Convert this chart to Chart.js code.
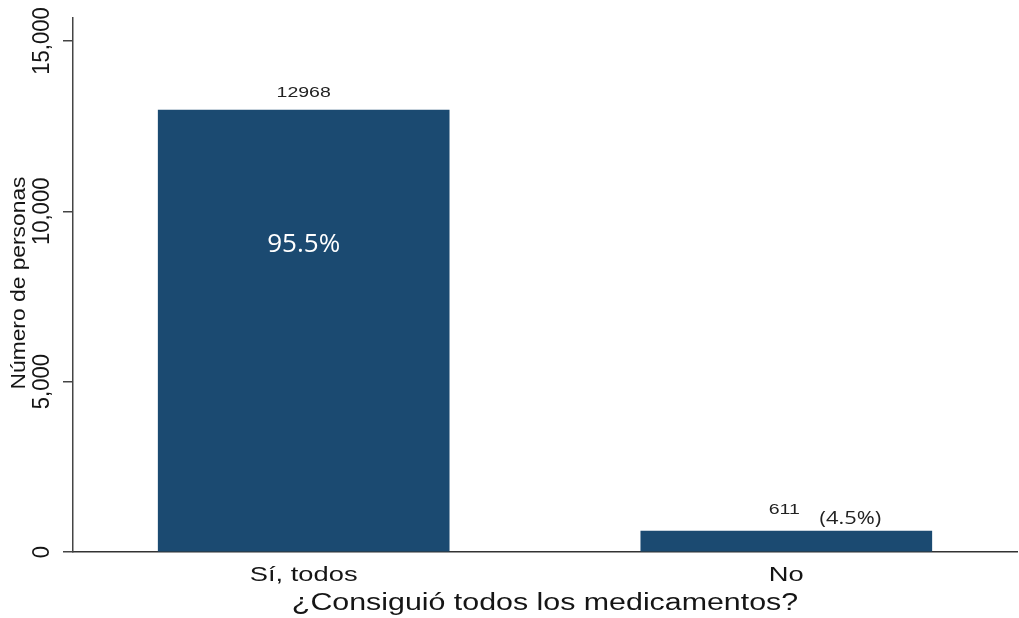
<!DOCTYPE html>
<html>
<head>
<meta charset="utf-8">
<script src="https://cdn.jsdelivr.net/npm/chart.js@4"></script>
<style>
  body { margin: 0; background: #fff; }
  #wrap { width: 1019px; height: 618px; }
</style>
</head>
<body>
<div id="wrap"><canvas id="medsChart" width="1019" height="618"></canvas></div>
<script>
// answers and number of people
var categories = ["Sí, todos", "No"];
var counts = [12968, 611];
var yTicks = [0, 5000, 10000, 15000];

var yTitle = "Número de personas";
var xTitle = "¿Consiguió todos los medicamentos?";

var total = counts.reduce(function(a, b) { return a + b; }, 0);
var pctLabels = counts.map(function(v) { return (v / total * 100).toFixed(1) + "%"; });

var barColor = "#1b4a71";
var inkColor = "#151515";

// draws text stretched by sx/sy (screen axes), optionally rotated
function putText(ctx, txt, x, y, font, color, sx, sy, rot, align) {
    ctx.save();
    ctx.translate(x, y);
    ctx.scale(sx, sy);
    if (rot) ctx.rotate(rot);
    ctx.font = font;
    ctx.fillStyle = color;
    ctx.textAlign = align || "center";
    ctx.textBaseline = "middle";
    ctx.fillText(txt, 0, 0);
    ctx.restore();
}

var labelPlugin = {
    id: "labels",
    afterDraw: function(chart) {
        var ctx = chart.ctx;
        var ys = chart.scales.y;
        var area = chart.chartArea;
        var bars = chart.getDatasetMeta(0).data;

        // y tick labels, rotated
        yTicks.forEach(function(v) {
            putText(ctx, v.toLocaleString("en-US"), 43, ys.getPixelForValue(v),
                "21px 'Liberation Sans', Arial", inkColor, 1.1, 1.05, -Math.PI / 2);
        });
        putText(ctx, yTitle, 19, 283, "19px 'Liberation Sans', Arial", inkColor, 1.1, 1.2, -Math.PI / 2);

        bars.forEach(function(el, i) {
            // category under the bar
            putText(ctx, categories[i], el.x, 575, "21px 'Liberation Sans', Arial", inkColor, 1.3, 1);

            var tall = (el.base - el.y) > 100;
            if (tall) {
                putText(ctx, String(counts[i]), el.x, el.y - 17, "15px 'Liberation Sans', Arial", "#222", 1.3, 1);
                putText(ctx, pctLabels[i], el.x, el.y + 134, "26px 'Open Sans'", "#ffffff", 1, 1);
            } else {
                // short bar: count and share side by side above it
                putText(ctx, String(counts[i]), el.x - 2, el.y - 21, "15px 'Liberation Sans', Arial", "#222", 1.3, 1);
                putText(ctx, "(" + pctLabels[i] + ")", el.x + 64, el.y - 13, "19px 'Open Sans'", "#222", 1.15, 1);
            }
        });

        putText(ctx, xTitle, (area.left + area.right) / 2, 604, "23px 'Liberation Sans', Arial", inkColor, 1.32, 1);
    }
};

var ctx = document.getElementById("medsChart");
var medsChart = new Chart(ctx, {
    type: "bar",
    data: {
        datasets: [{
            data: counts.map(function(v, i) { return { x: i + 1, y: v }; }),
            backgroundColor: barColor,
            borderWidth: 0,
            barThickness: 291
        }]
    },
    options: {
        responsive: false,
        animation: false,
        devicePixelRatio: 1,
        layout: { padding: { top: 18, right: 2, left: 0, bottom: 0 } },
        plugins: {
            legend: { display: false },
            tooltip: { enabled: false }
        },
        scales: {
            x: {
                type: "linear",
                offset: false,
                min: 0.522,
                max: 2.478,
                grid: { display: false, offset: false },
                ticks: { display: false },
                border: { display: true, color: "#333", width: 1.5 },
                afterFit: function(scale) { scale.height = 66; }
            },
            y: {
                min: 0,
                max: 15674,
                grid: { drawOnChartArea: false, drawTicks: true, tickLength: 10, color: "#444", lineWidth: 1.5 },
                ticks: { display: false },
                border: { display: true, color: "#444", width: 1.5 },
                afterBuildTicks: function(scale) {
                    scale.ticks = yTicks.map(function(v) { return { value: v }; });
                },
                afterFit: function(scale) { scale.width = 73; }
            }
        }
    },
    plugins: [labelPlugin]
});
</script>
</body>
</html>
